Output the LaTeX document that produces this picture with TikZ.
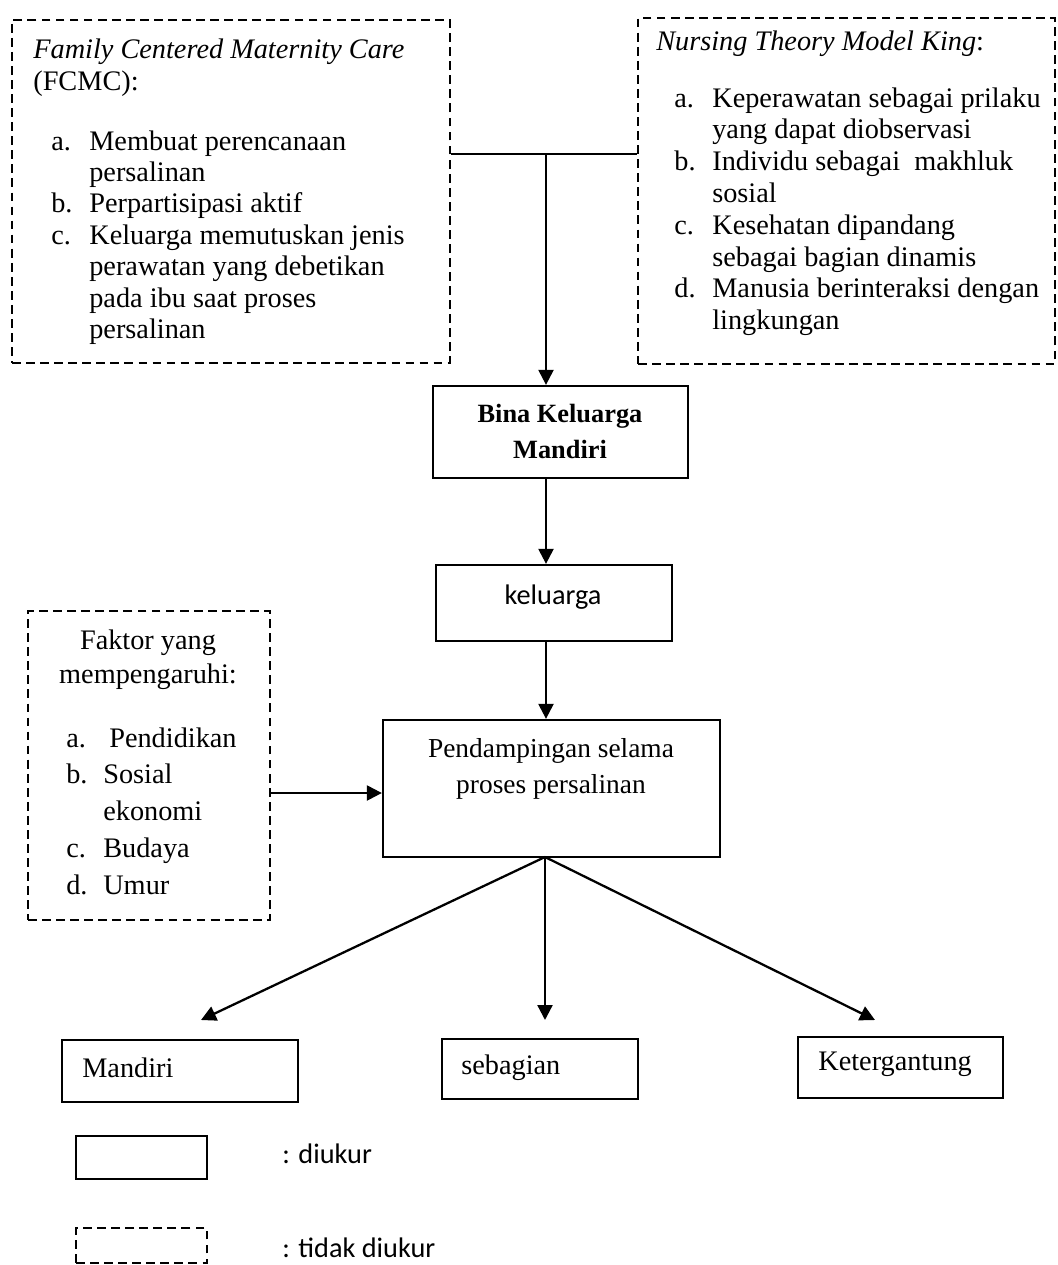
\documentclass[tikz,border=0pt]{standalone}
\usepackage{fontspec}
\setmainfont{Liberation Serif}
\newfontfamily\calibri{Carlito}
\usetikzlibrary{arrows.meta,positioning}

\begin{document}
\begin{tikzpicture}[x=0.02cm,y=-0.02cm,
  font=\fontsize{16.1}{18.1}\selectfont,
  sz/.style 2 args={minimum width=#1*0.02cm,minimum height=#2*0.02cm},
  bx/.style={draw,line width=1.3pt,inner sep=0pt},
  dbx/.style={draw,line width=1.2pt,dash pattern=on 5pt off 3pt,inner sep=0pt},
  tx/.style={inner sep=0pt,anchor=base west},
  a/.style={line width=1.3pt,-{Triangle[length=0.3cm,width=0.3cm]}}]
\useasboundingbox (0,0) rectangle (1058,1265);
% kotak teori
\node[dbx,sz={438}{343}] (fcmc) at (231,191.5) {};
\node[dbx,sz={417}{346}] (king) at (846.5,191) {};
\node[tx] (fcmcT) at (33,58) {\fontsize{16.1}{18.7}\selectfont\begin{tabular}[t]{@{}l@{}}
  \textit{Family Centered Maternity Care}\\(FCMC):\end{tabular}};
\node[tx] (fcmcL) at (51,150) {\fontsize{16.1}{17.9}\selectfont\begin{tabular}[t]{@{}p{0.76cm}@{}l@{}}
  a. & Membuat perencanaan\\ & persalinan\\
  b. & Perpartisipasi aktif\\
  c. & Keluarga memutuskan jenis\\ & perawatan yang debetikan\\ & pada ibu saat proses\\ & persalinan
  \end{tabular}};
\node[tx] (kingT) at (656,50) {\textit{Nursing Theory Model King}:};
\node[tx] (kingL) at (674,107) {\begin{tabular}[t]{@{}p{0.76cm}@{}l@{}}
  a. & Keperawatan sebagai prilaku\\ & yang dapat diobservasi\\
  b. & Individu sebagai\ \ makhluk\\ & sosial\\
  c. & Kesehatan dipandang\\ & sebagai bagian dinamis\\
  d. & Manusia berinteraksi dengan\\ & lingkungan
  \end{tabular}};
% alur tengah
\node[bx,sz={255}{92}] (bina) at (560.5,432) {};
\node[anchor=base,inner sep=0pt] (binaT) at (560,422) {\fontsize{15}{21}\selectfont\bfseries
  \begin{tabular}[t]{@{}c@{}}Bina Keluarga\\Mandiri\end{tabular}};
\node[bx,sz={236}{76}] (kel) at (554,603) {};
\node[anchor=base,inner sep=0pt] (kelT) at (553,604) {\calibri keluarga};
\node[bx,sz={337}{137}] (pend) at (551.5,788.5) {};
\node[anchor=base,inner sep=0pt] (pendT) at (551,757) {\fontsize{15.6}{21}\selectfont
  \begin{tabular}[t]{@{}c@{}}Pendampingan selama\\proses persalinan\end{tabular}};
% faktor
\node[dbx,sz={242}{309}] (fak) at (149,765.5) {};
\node[anchor=base,inner sep=0pt] (fakT) at (148,649) {\fontsize{16.1}{19.8}\selectfont
  \begin{tabular}[t]{@{}c@{}}Faktor yang\\mempengaruhi:\end{tabular}};
\node[tx] (fakL) at (66,747) {\fontsize{16.1}{21}\selectfont\begin{tabular}[t]{@{}p{0.74cm}@{}l@{}}
  a. & \hspace{0.12cm}Pendidikan\\
  b. & Sosial\\ & ekonomi\\
  c. & Budaya\\
  d. & Umur
  \end{tabular}};
% hasil
\node[bx,sz={236}{62}] (mdr) at (180,1071) {};
\node[tx] (mdrT) at (82,1077) {Mandiri};
\node[bx,sz={196}{60}] (sbg) at (540,1069) {};
\node[tx] (sbgT) at (461,1074) {sebagian};
\node[bx,sz={205}{61}] (ktg) at (900.5,1067.5) {};
\node[tx] (ktgT) at (818,1070) {Ketergantung};
% keterangan
\node[bx,sz={131}{43}] (legA) at (141.5,1157.5) {};
\node[tx] (legAT) at (282,1163) {\calibri : diukur};
\node[dbx,sz={131}{35}] (legB) at (141.5,1245.5) {};
\node[tx] (legBT) at (282,1257) {\calibri : tidak diukur};
% panah
\coordinate (jn) at (546,154);
\coordinate (fy) at (0,793);
\coordinate (hub) at (545,857);
\coordinate (tM) at (201,1020);
\coordinate (tS) at (545,1020);
\coordinate (tK) at (875,1020);
\draw[line width=1.3pt] (fcmc.east |- jn) -- (king.west |- jn);
\draw[a] (jn) -- (jn |- bina.north);
\draw[a] (bina.south -| jn) -- (kel.north -| jn);
\draw[a] (kel.south -| jn) -- (pend.north -| jn);
\draw[a] (fak.east |- fy) -- (pend.west |- fy);
\draw[a] (hub) -- (tM);
\draw[a] (hub) -- (tS);
\draw[a] (hub) -- (tK);
\end{tikzpicture}
\end{document}
